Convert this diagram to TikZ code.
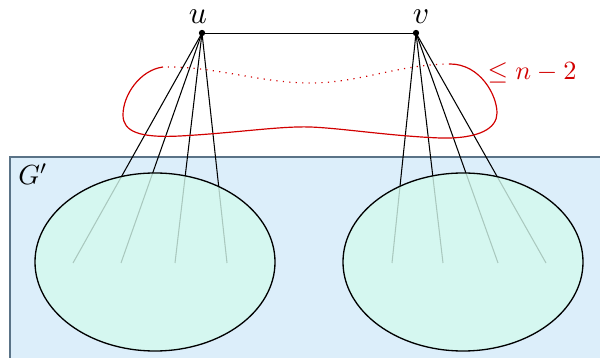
\documentclass[tikz,border=0pt]{standalone}
\begin{document}
\begin{tikzpicture}[x=0.38pt,y=-0.38pt,
  vert/.style={circle,fill=black,inner sep=0pt,minimum size=2.4pt},
  vlab/.style={scale=1.2},
  blob/.style={draw=black,line width=0.5pt,fill=mintc,fill opacity=0.8},
  redc/.style={draw=redline,line width=0.45pt}]
\definecolor{mintc}{RGB}{212,250,238}
\definecolor{bluebg}{RGB}{220,238,250}
\definecolor{bordc}{RGB}{90,115,135}
\definecolor{redline}{RGB}{210,0,0}
\useasboundingbox (0,0) rectangle (600,358);
\clip (0,0) rectangle (600,358);
% G' region
\filldraw[fill=bluebg,draw=bordc,line width=0.4pt] (10,157) rectangle (620,380);
\node[anchor=center,scale=1.05] (gp) at (33,174) {$G'$};
% vertices
\node[vert] (u) at (202,33) {};
\node[vert] (v) at (416,33) {};
\node[vlab] (ul) at (198,17) {$u$};
\node[vlab] (vl) at (421,17) {$v$};
\draw[line width=0.35pt] (u.center) -- (v.center);
% end points inside blobs
\coordinate (a1) at (73,263);
\coordinate (a2) at (121,263);
\coordinate (a3) at (175,263);
\coordinate (a4) at (227,263);
\coordinate (b1) at (392,263);
\coordinate (b2) at (443,263);
\coordinate (b3) at (498,263);
\coordinate (b4) at (546,263);
\foreach \p in {a1,a2,a3,a4} \draw (u.center) -- (\p);
\foreach \p in {b1,b2,b3,b4} \draw (v.center) -- (\p);
% blobs
\draw[blob] (155,262) ellipse [x radius=120, y radius=89];
\draw[blob] (463,262) ellipse [x radius=120, y radius=89];
% red curve
\draw[redc] (163,67) .. controls (140,70) and (123,95) .. (123,115)
  .. controls (123,132) and (140,138) .. (180,136)
  .. controls (235,133) and (280,126) .. (310,127)
  .. controls (340,128) and (390,136) .. (440,138)
  .. controls (480,139) and (497,128) .. (497,113)
  .. controls (497,95) and (480,64) .. (450,64);
\draw[redc,dotted] (450,64) .. controls (400,64) and (360,83) .. (310,83)
  .. controls (260,83) and (215,66) .. (163,67);
\node[text=redline] (lab) at (532,73) {$\leq n-2$};
\end{tikzpicture}
\end{document}
